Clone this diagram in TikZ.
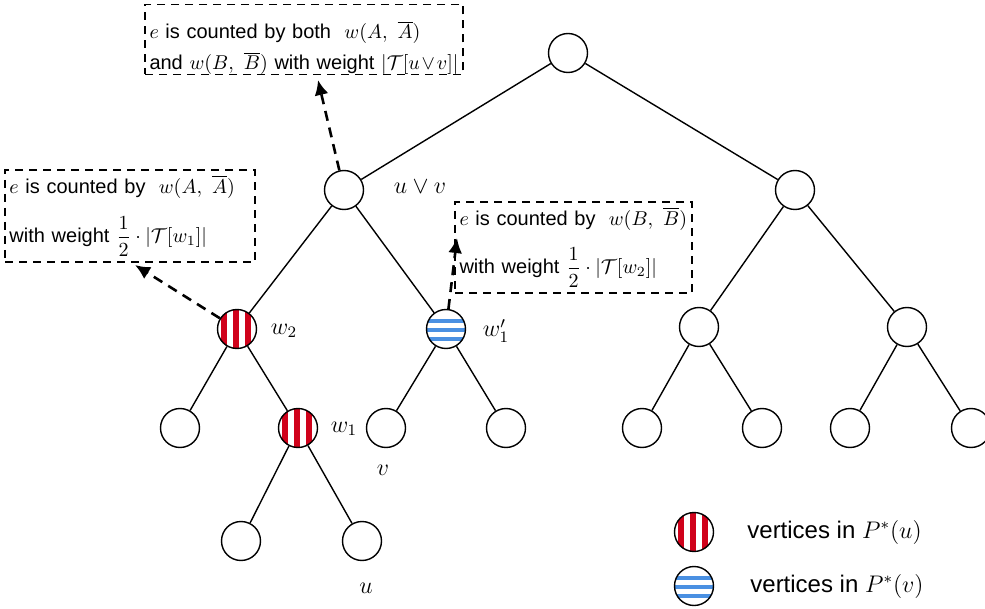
\documentclass[tikz,border=0pt]{standalone}
\usepackage{amsmath}
\usepackage[no-math]{fontspec}
\setmainfont{Liberation Sans}
\usetikzlibrary{arrows.meta,calc}
\definecolor{stripred}{RGB}{208,2,27}
\definecolor{stripblue}{RGB}{74,144,226}

\begin{document}
\begin{tikzpicture}[x=0.5pt,y=-0.5pt,
	vtx/.style={circle,draw,line width=0.7pt,minimum size=19.5pt,inner sep=0pt},
	pu/.style={vtx,path picture={
		\foreach \s in {-6.5,-0.5,5.5}
			\fill[stripred] ([xshift=\s pt-1.4pt]path picture bounding box.south) rectangle ([xshift=\s pt+1.4pt]path picture bounding box.north);}},
	pv/.style={vtx,path picture={
		\foreach \s in {4,-0.5,-5}
			\fill[stripblue] ([yshift=\s pt-1.1pt]path picture bounding box.west) rectangle ([yshift=\s pt+1.1pt]path picture bounding box.east);}},
	edge/.style={line width=0.7pt},
	lbl/.style={font=\fontsize{12}{14}\selectfont,inner sep=0pt},
	notebox/.style={draw,line width=0.6pt,dash pattern=on 4pt off 3pt,align=left,inner xsep=2.25pt,inner ysep=0pt,font=\fontsize{10}{12}\selectfont},
	dasharrow/.style={line width=1.3pt,dash pattern=on 5pt off 3.5pt,-{Latex[length=7.5pt,width=7pt]}}]
\useasboundingbox (0,0) rectangle (985,609);

% tree
\node[vtx] (root) at (568,53) {};
\node[vtx] (uv) at (344,190) {};
\node[vtx] (r1) at (795,190) {};
\node[pu] (w2) at (237,329) {};
\node[pv] (w1p) at (446,329) {};
\node[vtx] (r2a) at (699,327) {};
\node[vtx] (r2b) at (907,327) {};
\node[vtx] (a3) at (180,428) {};
\node[pu] (w1) at (298,428) {};
\node[vtx] (v) at (386,428) {};
\node[vtx] (b3) at (506,428) {};
\node[vtx] (c3) at (642,428) {};
\node[vtx] (d3) at (762,428) {};
\node[vtx] (e3) at (850,428) {};
\node[vtx] (f3) at (971,428) {};
\node[vtx] (a4) at (241,541) {};
\node[vtx] (u) at (362,541) {};
\foreach \pa/\ch in {root/uv,root/r1,uv/w2,uv/w1p,r1/r2a,r1/r2b,w2/a3,w2/w1,w1p/v,w1p/b3,r2a/c3,r2a/d3,r2b/e3,r2b/f3,w1/a4,w1/u}
	\draw[edge] (\pa) -- (\ch);

% labels
\node[lbl] (uvlbl) at (420,187) {$u\vee v$};
\node[lbl] (w2lbl) at (284,331) {$w_2$};
\node[lbl] (w1plbl) at (496,331) {$w_1'$};
\node[lbl] (w1lbl) at (344,429) {$w_1$};
\node[lbl] (vlbl) at (383,470) {$v$};
\node[lbl] (ulbl) at (366,588) {$u$};

% notes
\node[notebox,text width=154.5pt,minimum height=34.5pt] (notetop) at (304,39.5)
	{\rule{0pt}{17pt}$e$ is counted by both\ \ $w(A,\ \overline{A})$\\[3.5pt]
	 and $w(B,\ \overline{B})$ with weight $|\mathcal{T}[u\vee v]|$};
\node[notebox,text width=120.5pt,minimum height=46pt] (noteleft) at (130,216)
	{$e$ is counted by\ \ $w(A,\ \overline{A})$\\[8pt]
	 with weight $\dfrac{1}{2}\cdot|\mathcal{T}[w_1]|$};
\node[notebox,text width=114pt,minimum height=45.5pt] (notemid) at (573.5,247.5)
	{$e$ is counted by\ \ $w(B,\ \overline{B})$\\[7.5pt]
	 with weight $\dfrac{1}{2}\cdot|\mathcal{T}[w_2]|$};

\coordinate (tiptop) at (318,80);
\coordinate (tipleft) at (135,265);
\coordinate (tipmid) at (457,238);
\draw[dasharrow] (uv) -- (tiptop);
\draw[dasharrow] (w2) -- (tipleft);
\draw[dasharrow] (w1p) -- (tipmid);

% legend
\node[pu] (legu) at (694,532) {};
\node[pv] (legv) at (694,586) {};
\node[lbl,anchor=west] (legutext) at (747,532) {vertices in $P^{*}(u)$};
\node[lbl,anchor=west] (legvtext) at (750,586) {vertices in $P^{*}(v)$};
\end{tikzpicture}
\end{document}
